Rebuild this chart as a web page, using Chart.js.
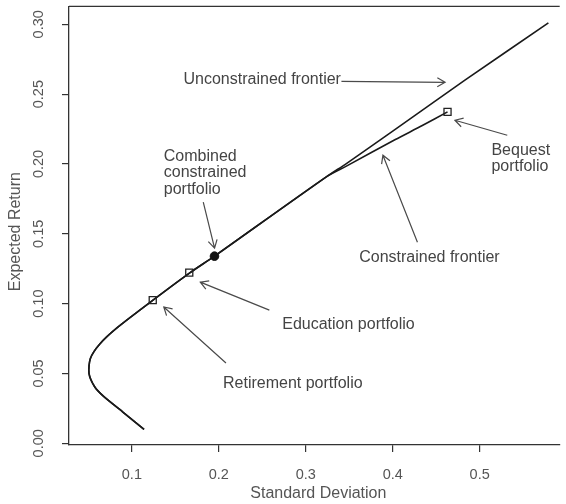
<!DOCTYPE html>
<html>
<head>
<meta charset="utf-8">
<style>
html,body{margin:0;padding:0;background:#ffffff;}
#wrap{width:566px;height:504px;position:relative;}
</style>
<script src="https://cdn.jsdelivr.net/npm/chart.js@4/dist/chart.umd.min.js"></script>
</head>
<body>
<div id="wrap"><canvas id="c" width="566" height="504"></canvas></div>
<script>
// ---- data ----
// shared lower part of both frontiers (standard deviation, expected return)
const frontierSd  = [0.114, 0.0893, 0.0672, 0.0572, 0.0507, 0.0523, 0.0629, 0.0835, 0.1243, 0.167, 0.195, 0.324];
const frontierRet = [0.010, 0.0226, 0.0338, 0.0405, 0.0501, 0.0608, 0.071, 0.083, 0.1025, 0.1222, 0.134, 0.191];
// upper branch of the unconstrained frontier
const unconSd  = [0.3467, 0.400, 0.483, 0.579];
const unconRet = [0.2003, 0.2235, 0.260, 0.301];
// upper branch of the constrained frontier
const conSd  = [0.3467, 0.403, 0.434, 0.463];
const conRet = [0.1985, 0.2175, 0.2275, 0.2373];
// portfolios
const boxNames = ['Retirement portfolio', 'Education portfolio', 'Bequest portfolio'];
const boxSd    = [0.124, 0.166, 0.463];
const boxRet   = [0.1025, 0.1222, 0.2373];
const combinedName = 'Combined constrained portfolio';
const combinedSd  = [0.195];
const combinedRet = [0.134];
// axes
const xTicks = [0.1, 0.2, 0.3, 0.4, 0.5];
const yTicks = [0.00, 0.05, 0.10, 0.15, 0.20, 0.25, 0.30];
const xTitle = 'Standard Deviation';
const yTitle = 'Expected Return';
// annotation texts
const noteTexts = [
  ['Unconstrained frontier'],
  ['Combined', 'constrained', 'portfolio'],
  ['Education portfolio'],
  ['Retirement portfolio'],
  ['Constrained frontier'],
  ['Bequest', 'portfolio']
];

// ---- layout of annotations (data coordinates) ----
const noteLayout = [
  {at: [0.1594, 0.2575], tail: [0.3410, 0.2592], head: [0.4602, 0.2585]},
  {at: [0.1367, 0.2020], tail: [0.1821, 0.1727], head: [0.1951, 0.1398]},
  {at: [0.2729, 0.0821], tail: [0.2581, 0.0954], head: [0.1787, 0.1154]},
  {at: [0.2048, 0.0399], tail: [0.2082, 0.0575], head: [0.1367, 0.0976]},
  {at: [0.3614, 0.1297], tail: [0.4284, 0.1440], head: [0.3887, 0.2063]},
  {at: [0.5135, 0.2063], tail: [0.5317, 0.2206], head: [0.4715, 0.2313]}
];

const FONT = '"Liberation Sans", Arial, Helvetica, sans-serif';
const toPts = (xs, ys) => xs.map((v, i) => ({x: v, y: ys[i]}));

const overlay = {
  id: 'overlay',
  afterDraw(chart) {
    const {ctx, chartArea: a, scales: {x, y}} = chart;
    ctx.save();
    // top frame line
    ctx.strokeStyle = '#333';
    ctx.lineWidth = 1.3;
    ctx.beginPath();
    ctx.moveTo(a.left, a.top);
    ctx.lineTo(a.right, a.top);
    ctx.stroke();

    // y tick labels (rotated, R style)
    ctx.fillStyle = '#555';
    ctx.font = '14.5px ' + FONT;
    ctx.textAlign = 'center';
    ctx.textBaseline = 'middle';
    y.ticks.forEach(t => {
      const py = y.getPixelForValue(t.value);
      ctx.save();
      ctx.translate(a.left - 30, py);
      ctx.rotate(-Math.PI / 2);
      ctx.fillText(t.value.toFixed(2), 0, 0);
      ctx.restore();
    });

    // axis titles
    ctx.font = '16px ' + FONT;
    ctx.fillText(xTitle, (a.left + a.right) / 2 + 4, a.bottom + 49);
    ctx.save();
    ctx.translate(a.left - 53, (a.top + a.bottom) / 2 + 6);
    ctx.rotate(-Math.PI / 2);
    ctx.fillText(yTitle, 0, 0);
    ctx.restore();

    // annotations
    ctx.font = '16px ' + FONT;
    ctx.textAlign = 'left';
    ctx.textBaseline = 'alphabetic';
    ctx.fillStyle = '#444';
    noteLayout.forEach((n, i) => {
      const tx = x.getPixelForValue(n.at[0]);
      const ty = y.getPixelForValue(n.at[1]);
      noteTexts[i].forEach((line, k) => ctx.fillText(line, tx, ty + k * 16.3));
      const x1 = x.getPixelForValue(n.tail[0]), y1 = y.getPixelForValue(n.tail[1]);
      const x2 = x.getPixelForValue(n.head[0]), y2 = y.getPixelForValue(n.head[1]);
      ctx.strokeStyle = '#4a4a4a';
      ctx.lineWidth = 1.2;
      ctx.beginPath();
      ctx.moveTo(x1, y1);
      ctx.lineTo(x2, y2);
      const ang = Math.atan2(y2 - y1, x2 - x1);
      const L = 9, w = Math.PI / 6;
      ctx.moveTo(x2 - L * Math.cos(ang - w), y2 - L * Math.sin(ang - w));
      ctx.lineTo(x2, y2);
      ctx.lineTo(x2 - L * Math.cos(ang + w), y2 - L * Math.sin(ang + w));
      ctx.stroke();
    });
    ctx.restore();
  }
};

const lineStyle = {showLine: true, pointRadius: 0, borderColor: '#1a1a1a', borderWidth: 1.6, tension: 0.25, fill: false};

new Chart(document.getElementById('c'), {
  type: 'scatter',
  data: {
    datasets: [
      {label: combinedName, data: toPts(combinedSd, combinedRet), pointStyle: 'circle', pointRadius: 4.3,
       backgroundColor: '#111', borderColor: '#111', borderWidth: 1},
      {label: 'Portfolios', data: toPts(boxSd, boxRet), pointStyle: 'rect', pointRadius: 5,
       backgroundColor: 'rgba(0,0,0,0)', borderColor: '#222', borderWidth: 1.3},
      Object.assign({label: 'Unconstrained frontier', data: toPts(frontierSd.concat(unconSd), frontierRet.concat(unconRet))}, lineStyle),
      Object.assign({label: 'Constrained frontier', data: toPts(frontierSd.concat(conSd), frontierRet.concat(conRet))}, lineStyle)
    ]
  },
  options: {
    responsive: false,
    devicePixelRatio: 1,
    animation: false,
    layout: {padding: {top: 6, right: 0, bottom: 0, left: 0}},
    plugins: {legend: {display: false}, tooltip: {enabled: false}, title: {display: false}},
    scales: {
      x: {
        type: 'linear', min: 0.0277, max: 0.592,
        afterBuildTicks: s => { s.ticks = xTicks.map(v => ({value: v})); },
        afterFit: s => { s.height = 59; },
        grid: {drawOnChartArea: false, drawTicks: true, tickLength: 7, color: '#333', lineWidth: 1.2},
        border: {display: true, color: '#333', width: 1.3},
        ticks: {color: '#555', font: {size: 14.5, family: FONT}, padding: 14, maxRotation: 0,
                callback: v => v.toFixed(1)},
        title: {display: false}
      },
      y: {
        type: 'linear', min: -0.0012, max: 0.3129,
        afterBuildTicks: s => { s.ticks = yTicks.map(v => ({value: v})); },
        afterFit: s => { s.width = 69; },
        grid: {drawOnChartArea: false, drawTicks: true, tickLength: 7, color: '#333', lineWidth: 1.2},
        border: {display: true, color: '#333', width: 1.3},
        ticks: {display: false},
        title: {display: false}
      }
    }
  },
  plugins: [overlay]
});
</script>
</body>
</html>
